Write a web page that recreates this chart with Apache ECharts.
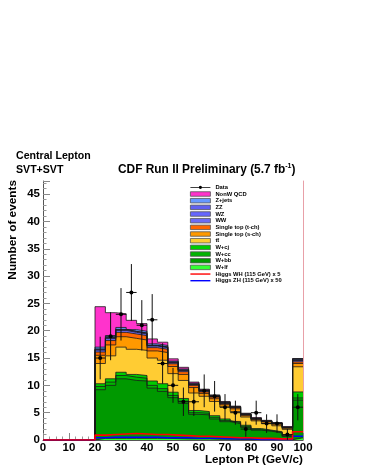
<!DOCTYPE html>
<html>
<head>
<meta charset="utf-8">
<script src="https://cdn.jsdelivr.net/npm/echarts@6/dist/echarts.min.js"></script>
<style>
  html, body { margin: 0; padding: 0; background: #fff; }
  #main { width: 365px; height: 473px; }
</style>
</head>
<body>
<div id="main"></div>
<script>
// lepton pt bins (GeV/c), 4 GeV wide, the last one holds the overflow
const binEdges = [0, 4, 8, 12, 16, 20, 24, 28, 32, 36, 40, 44, 48, 52, 56, 60, 64, 68, 72, 76, 80, 84, 88, 92, 96];
const binWidth = 4;
const xTicks = [0, 10, 20, 30, 40, 50, 60, 70, 80, 90, 100];
const yTicks = [0, 5, 10, 15, 20, 25, 30, 35, 40, 45];
const yMax = 47.4;

// backgrounds, events per bin (stacked bottom -> top)
const wlf   = [0, 0, 0, 0, 0, 0.3, 0.3, 0.3, 0.3, 0.3, 0.3, 0.3, 0.25, 0.2, 0.2, 0.2, 0.15, 0.15, 0.1, 0.1, 0.1, 0.1, 0.1, 0.05, 0.4];
const wbb   = [0, 0, 0, 0, 0, 8.9, 9.7, 10.9, 10.6, 10.5, 9.2, 8.6, 7.5, 6.5, 4.5, 4.4, 3.7, 3.2, 2.9, 2.2, 1.7, 1.5, 1.2, 0.6, 6.9];
const wcc   = [0, 0, 0, 0, 0, 0.6, 0.6, 0.6, 0.6, 0.5, 0.5, 0.5, 0.4, 0.4, 0.3, 0.3, 0.3, 0.2, 0.2, 0.2, 0.1, 0.1, 0.1, 0.1, 0.4];
const wcj   = [0, 0, 0, 0, 0, 0.5, 0.6, 0.6, 0.5, 0.5, 0.8, 0.9, 0.6, 0.5, 0.4, 0.3, 0.3, 0.3, 0.2, 0.2, 0.2, 0.1, 0.1, 0.1, 1.1];
const ttbar = [0, 0, 0, 0, 0, 3.7, 4.2, 4.6, 4.6, 4.6, 4.2, 4.3, 3.4, 3.3, 3.2, 2.8, 2.6, 2.2, 1.8, 1.5, 1.4, 1.2, 1.1, 1.1, 4.6];
const stopS = [0, 0, 0, 0, 0, 1.5, 2.0, 1.9, 2.0, 1.9, 1.3, 1.4, 1.3, 1.1, 1.0, 0.5, 0.5, 0.4, 0.5, 0.25, 0.2, 0.3, 0.3, 0.2, 0.6];
const stopT = [0, 0, 0, 0, 0, 0.6, 0.8, 0.8, 0.8, 0.8, 0.6, 0.6, 0.5, 0.5, 0.4, 0.3, 0.3, 0.2, 0.2, 0.15, 0.1, 0.1, 0.1, 0.1, 0.3];
const ww    = [0, 0, 0, 0, 0, 0.35, 0.35, 0.35, 0.3, 0.3, 0.3, 0.3, 0.2, 0.2, 0.15, 0.15, 0.1, 0.1, 0.08, 0.08, 0.08, 0.04, 0.04, 0.04, 0.25];
const wz    = [0, 0, 0, 0, 0, 0.15, 0.15, 0.15, 0.15, 0.15, 0.1, 0.1, 0.1, 0.1, 0.08, 0.08, 0.06, 0.06, 0.04, 0.04, 0.04, 0.02, 0.02, 0.02, 0.1];
const zz    = [0, 0, 0, 0, 0, 0.05, 0.05, 0.05, 0.05, 0.05, 0.04, 0.04, 0.03, 0.03, 0.02, 0.02, 0.02, 0.02, 0.01, 0.01, 0.01, 0.01, 0.01, 0.01, 0.05];
const zjets = [0, 0, 0, 0, 0, 0.35, 0.35, 0.35, 0.3, 0.3, 0.26, 0.26, 0.17, 0.17, 0.15, 0.15, 0.12, 0.12, 0.07, 0.07, 0.07, 0.03, 0.03, 0.03, 0.2];
const qcd   = [0, 0, 0, 0, 0, 7.4, 4.2, 2.5, 1.7, 1.4, 0.9, 0.6, 0.4, 0.3, 0.2, 0.1, 0.1, 0.1, 0.1, 0.1, 0.1, 0.1, 0.1, 0.1, 0.0];

// signal, scaled
const higgsWH = [0, 0, 0, 0, 0, 0.9, 1.0, 1.1, 1.2, 1.1, 1.0, 1.0, 0.9, 0.8, 0.7, 0.7, 0.6, 0.5, 0.4, 0.4, 0.3, 0.3, 0.2, 0.2, 1.5];
const higgsZH = [0, 0, 0, 0, 0, 0.4, 0.5, 0.5, 0.5, 0.5, 0.5, 0.4, 0.4, 0.4, 0.3, 0.3, 0.3, 0.2, 0.2, 0.2, 0.1, 0.1, 0.1, 0.1, 0.7];

// data, with its error
const dataCounts = [null, null, null, null, null, 15, 19, 23, 27, 21, 22, 14, 10, 7, 7, 9, 8, 6, 5, 2, 5, 3, 3, 1, 6];
const dataErrors = [null, null, null, null, null, 3.9, 4.4, 4.8, 5.2, 4.6, 4.7, 3.7, 3.2, 2.6, 2.6, 3.0, 2.8, 2.4, 2.2, 1.4, 2.2, 1.7, 1.7, 1.0, 2.4];

const FONT = '"Liberation Sans", Arial, sans-serif';
const xMax = binEdges[binEdges.length - 1] + binWidth;

// histogram contour as points for step lines
const toSteps = (vals) => binEdges.map((x, i) => [x, +vals[i].toFixed(3)]).concat([[xMax, vals[vals.length - 1]]]);

const stackLayers = [
	{ name: "W+lf", color: "#33ff33", values: wlf },
	{ name: "W+bb", color: "#009900", values: wbb },
	{ name: "W+cc", color: "#00b400", values: wcc },
	{ name: "W+cj", color: "#00cc00", values: wcj },
	{ name: "tt\u0304", color: "#ffcc33", values: ttbar },
	{ name: "Single top (s-ch)", color: "#ff9900", values: stopS },
	{ name: "Single top (t-ch)", color: "#ff6600", values: stopT },
	{ name: "WW", color: "#6b6bf5", values: ww },
	{ name: "WZ", color: "#6666ff", values: wz },
	{ name: "ZZ", color: "#6060f0", values: zz },
	{ name: "Z+jets", color: "#6699ff", values: zjets },
	{ name: "NonW QCD", color: "#ff33cc", values: qcd }
];

// cumulative sums, drawn top layer first so lower fills sit over it
let running = binEdges.map(() => 0);
const stackSeries = stackLayers.map((layer) => {
	running = running.map((v, i) => v + layer.values[i]);
	return {
		name: layer.name,
		type: "line",
		step: "end",
		symbol: "none",
		color: layer.color,
		data: toSteps(running),
		lineStyle: { color: "#1a1a1a", width: 0.8 },
		areaStyle: { color: layer.color, opacity: 1 },
		z: 2
	};
}).reverse();

const higgsWHName = "Higgs WH (115 GeV) x 5";
const higgsZHName = "Higgs ZH (115 GeV) x 50";

const pointData = [];
dataCounts.forEach((n, i) => {
	if (n !== null) pointData.push([binEdges[i] + binWidth / 2, n, dataErrors[i]]);
});

const dataIcon = "path://M0,2.1H20V2.9H0Z M8.4,2.5A1.6,1.6 0 1 1 11.6,2.5A1.6,1.6 0 1 1 8.4,2.5Z";
const lineIcon = "path://M0,0H20V1.4H0Z";

const legendData = [{ name: "Data", icon: dataIcon, itemStyle: { color: "#000" } }];
stackLayers.slice().reverse().forEach((l) => {
	legendData.push({ name: l.name, icon: "rect", itemStyle: { color: l.color, borderColor: "#555", borderWidth: 0.8 } });
});
legendData.push({ name: higgsWHName, icon: lineIcon, itemStyle: { color: "#ff0000" } });
legendData.push({ name: higgsZHName, icon: lineIcon, itemStyle: { color: "#0000ff" } });

const chart = echarts.init(document.getElementById("main"));
const option = {
	animation: false,
	backgroundColor: "#fff",
	title: [
		{ text: "Central Lepton", left: 16, top: 151, padding: 0,
			textStyle: { fontFamily: FONT, fontSize: 10.6, fontWeight: "bold", color: "#000" } },
		{ text: "SVT+SVT", left: 16, top: 164.5, padding: 0,
			textStyle: { fontFamily: FONT, fontSize: 10.6, fontWeight: "bold", color: "#000" } },
		{ text: "{a|CDF Run II Preliminary (5.7 fb}{s|-1}{a|)}", left: 118, top: 163, padding: 0,
			textStyle: {
				rich: {
					a: { fontFamily: FONT, fontSize: 11.9, fontWeight: "bold", color: "#000", lineHeight: 14 },
					s: { fontFamily: FONT, fontSize: 7, fontWeight: "bold", color: "#000", verticalAlign: "top", lineHeight: 14 }
				}
			} }
	],
	legend: {
		orient: "vertical",
		left: 190,
		top: 184,
		padding: 0,
		itemWidth: 20,
		itemHeight: 4.5,
		itemGap: 0,
		selectedMode: false,
		textStyle: { fontFamily: FONT, fontSize: 5.8, fontWeight: "bold", color: "#000", lineHeight: 6.67 },
		data: legendData
	},
	graphic: [
		{ type: "text", x: 13, y: 180, rotation: Math.PI / 2,
			style: { text: "Number of events", fontFamily: FONT, fontSize: 11.8, fontWeight: "bold", fill: "#000", align: "right", verticalAlign: "middle" } }
	],
	grid: { left: 43, right: 62, top: 181, bottom: 33, outerBoundsMode: "none" },
	xAxis: {
		type: "value",
		min: xTicks[0],
		max: xTicks[xTicks.length - 1],
		interval: xTicks[1] - xTicks[0],
		name: "Lepton Pt (GeV/c)",
		nameLocation: "end",
		nameGap: 0,
		nameTextStyle: { fontFamily: FONT, fontSize: 11.7, fontWeight: "bold", color: "#000", align: "right", verticalAlign: "top", padding: [14, 0, 0, 0] },
		axisLine: { show: true, lineStyle: { color: "#555", width: 1 } },
		axisTick: { show: true, inside: true, length: 7, lineStyle: { color: "#888" } },
		minorTick: { show: true, splitNumber: 4, length: 3.5, lineStyle: { color: "#999" } },
		splitLine: { show: false },
		axisLabel: { fontFamily: FONT, fontSize: 11.5, fontWeight: "bold", color: "#000", margin: 1.5 }
	},
	yAxis: [
		{
			type: "value",
			min: yTicks[0],
			max: yMax,
			interval: yTicks[1] - yTicks[0],
			axisLine: { show: true, lineStyle: { color: "#555", width: 1 } },
			axisTick: { show: true, inside: true, length: 7, lineStyle: { color: "#888" } },
			minorTick: { show: true, splitNumber: 5, length: 3.5, lineStyle: { color: "#999" } },
			splitLine: { show: false },
			axisLabel: { fontFamily: FONT, fontSize: 11.5, fontWeight: "bold", color: "#000", margin: 3, showMaxLabel: false }
		},
		{
			// right frame edge
			type: "value",
			position: "right",
			min: yTicks[0],
			max: yMax,
			axisLine: { show: true, lineStyle: { color: "#e8a0a8", width: 1 } },
			axisTick: { show: false },
			axisLabel: { show: false },
			splitLine: { show: false }
		}
	],
	series: stackSeries.concat([
		{
			name: higgsZHName,
			type: "line",
			step: "end",
			symbol: "none",
			color: "#0000ff",
			data: toSteps(higgsZH),
			lineStyle: { color: "#0000ff", width: 1.4 },
			z: 5
		},
		{
			name: higgsWHName,
			type: "line",
			step: "end",
			symbol: "none",
			color: "#ff0000",
			data: toSteps(higgsWH),
			lineStyle: { color: "#ff0000", width: 1.6 },
			z: 6
		},
		{
			name: "Data",
			type: "custom",
			color: "#000",
			data: pointData,
			encode: { x: 0, y: 1 },
			z: 10,
			renderItem: (params, api) => {
				const x = api.value(0);
				const y = api.value(1);
				const e = api.value(2);
				const c = api.coord([x, y]);
				const hi = api.coord([x, y + e]);
				const lo = api.coord([x, Math.max(y - e, 0)]);
				const l = api.coord([x - binWidth / 2, y]);
				const r = api.coord([x + binWidth / 2, y]);
				return {
					type: "group",
					children: [
						{ type: "line", shape: { x1: c[0], y1: hi[1], x2: c[0], y2: lo[1] }, style: { stroke: "#111", lineWidth: 1 } },
						{ type: "line", shape: { x1: l[0], y1: c[1], x2: r[0], y2: c[1] }, style: { stroke: "#111", lineWidth: 1 } },
						{ type: "circle", shape: { cx: c[0], cy: c[1], r: 2 }, style: { fill: "#000" } }
					]
				};
			}
		}
	])
};
chart.setOption(option);
</script>
</body>
</html>
